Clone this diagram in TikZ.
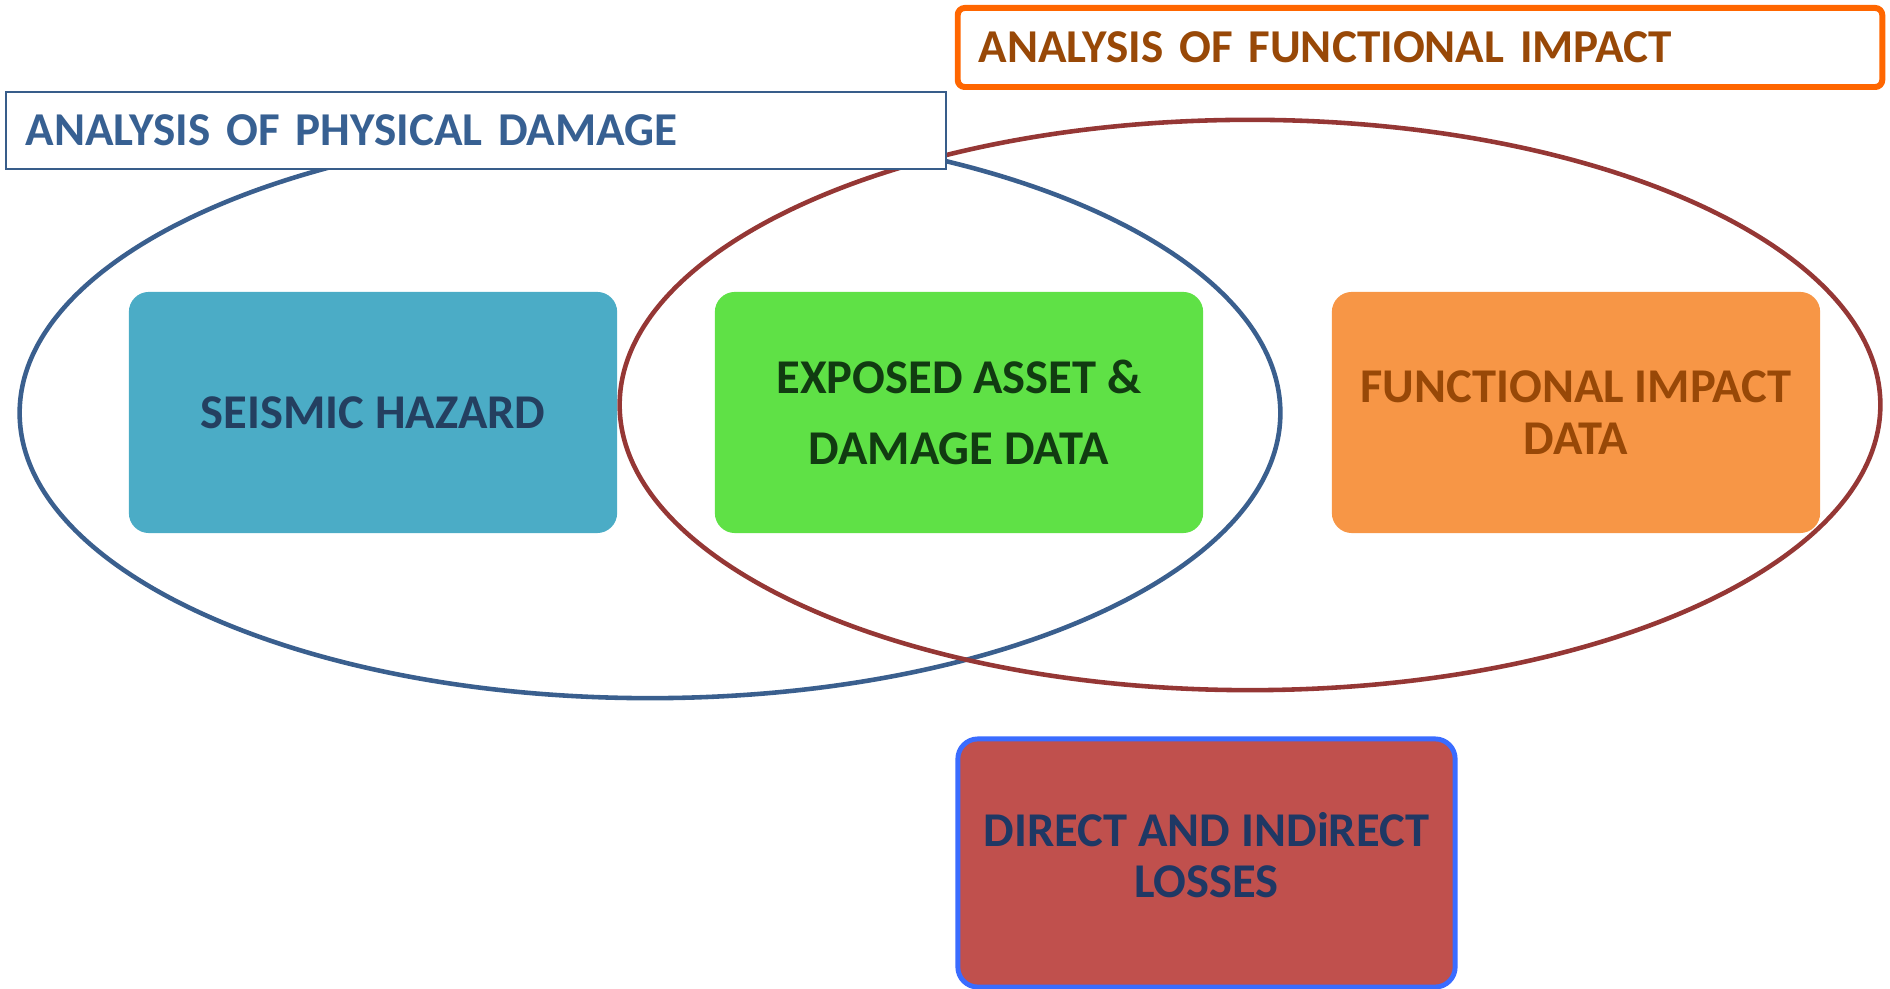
\documentclass[tikz,border=0pt]{standalone}
\usepackage{fontspec}
\setmainfont{Carlito}
\usetikzlibrary{shapes.geometric}
\definecolor{physline}{HTML}{385D8A}
\definecolor{phystext}{HTML}{376092}
\definecolor{funcline}{HTML}{FF6600}
\definecolor{functext}{HTML}{984807}
\definecolor{physring}{HTML}{3A5F8E}
\definecolor{funcring}{HTML}{953735}
\definecolor{hazard}{HTML}{4BACC6}
\definecolor{hazardtext}{HTML}{243F60}
\definecolor{asset}{HTML}{5FE146}
\definecolor{assettext}{HTML}{113B11}
\definecolor{impact}{HTML}{F79646}
\definecolor{loss}{HTML}{C0504D}
\definecolor{lossline}{HTML}{3A6CFF}
\definecolor{losstext}{HTML}{1F3864}

\begin{document}
\begin{tikzpicture}[
  x=0.01cm, y=-0.01cm,
  font=\bfseries\fontsize{13.8}{17}\selectfont,
  ring/.style={ellipse,draw,line width=1.3pt,inner sep=0pt,
    minimum width=12.6cm,minimum height=5.7cm},
  datablock/.style={rounded corners=0.2cm,align=center,inner sep=0pt,
    minimum width=4.88cm,minimum height=2.41cm},
  titlebox/.style={draw,fill=white,align=left,inner ysep=0pt,
    font=\bfseries\fontsize{13.4}{17}\selectfont}
]
\useasboundingbox (0,0) rectangle (1890,989);
% The two overlapping analysis domains.
\node[ring,draw=physring] (physical) at (650,413) {};
\node[ring,draw=funcring] (functional) at (1250,405) {};
% Input data blocks.
\node[datablock,fill=hazard,text=hazardtext] (hazard) at (373,412.5)
  {SEISMIC HAZARD};
\node[datablock,fill=asset,text=assettext,
  font=\bfseries\fontsize{13.8}{20}\selectfont] (asset) at (959,412.5)
  {EXPOSED ASSET \&\\DAMAGE DATA};
\node[datablock,fill=impact,text=functext,
  font=\bfseries\fontsize{13.8}{15}\selectfont] (impact) at (1576,412.5)
  {FUNCTIONAL IMPACT\\DATA};
% Result block below the overlap.
\node[datablock,fill=loss,draw=lossline,line width=1.4pt,text=losstext,
  minimum width=4.97cm,minimum height=2.48cm,text depth=0.16cm,
  font=\bfseries\fontsize{13.8}{14.5}\selectfont] (losses) at (1206.5,863)
  {DIRECT AND INDiRECT\\LOSSES};
% Domain titles on top of the rings.
\node[titlebox,draw=physline,line width=0.6pt,text=phystext,
  minimum width=9.4cm,minimum height=0.77cm,inner xsep=0.2cm,
  text width=9.0cm] (physicaltitle) at (476,130.5)
  {ANALYSIS OF PHYSICAL DAMAGE};
\node[titlebox,draw=funcline,line width=1.7pt,rounded corners=2pt,
  text=functext,minimum width=9.24cm,minimum height=0.79cm,
  inner xsep=0.21cm,text width=8.82cm] (functionaltitle) at (1420,47.5)
  {ANALYSIS OF FUNCTIONAL IMPACT};
\end{tikzpicture}
\end{document}
